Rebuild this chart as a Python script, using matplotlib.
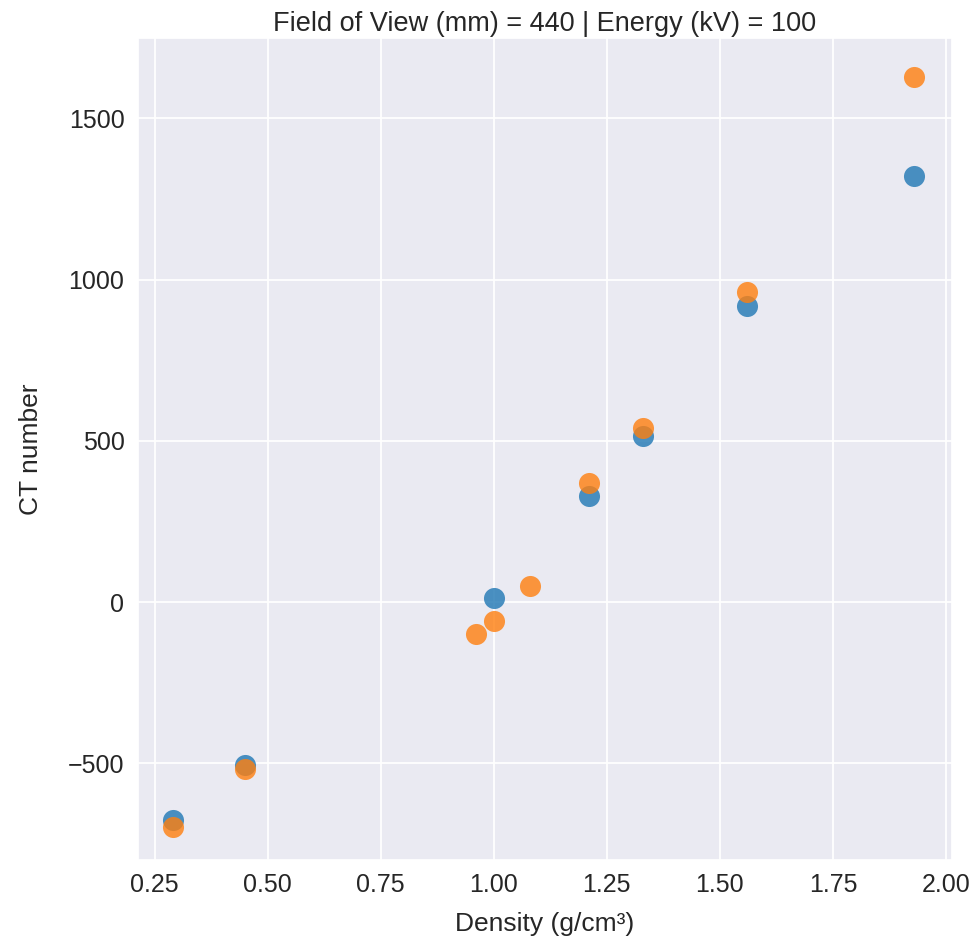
import numpy as np
import seaborn as sns
from matplotlib import pyplot as plt

# плотность и CT-числа для двух серий
density_a = [0.29, 0.45, 1.00, 1.21, 1.33, 1.56, 1.93]
ct_a = [-676, -506, 12, 330, 515, 917, 1321]
density_b = [0.29, 0.45, 0.96, 1.00, 1.08, 1.21, 1.33, 1.56, 1.93]
ct_b = [-698, -519, -99, -59, 49, 370, 540, 963, 1628]

sns.set_theme(style="darkgrid")
plt.rcParams['font.family'] = ['Liberation Sans', 'DejaVu Sans']

fig = plt.figure(figsize=(9.76, 9.44), dpi=100)
ax = fig.add_axes([0.141, 0.089, 0.834, 0.871])
ax.scatter(density_a, ct_a, s=230, color="#1f77b4", alpha=0.8, linewidths=0)
ax.scatter(density_b, ct_b, s=230, color="#ff7f0e", alpha=0.8, linewidths=0)
ax.set_xlim(0.2125, 2.0125)
ax.set_ylim(-800, 1750)
ax.set_xticks(np.arange(0.25, 2.01, 0.25))
ax.set_yticks([-500, 0, 500, 1000, 1500])
ax.tick_params(labelsize=18)
ax.grid(linewidth=1.3)
ax.set_xlabel("Density (g/cm³)", fontsize=19, labelpad=11)
ax.set_ylabel("CT number", fontsize=19, labelpad=18)
ax.set_title("Field of View (mm) = 440 | Energy (kV) = 100", fontsize=19.5, pad=5)
fig.savefig("out.png")
